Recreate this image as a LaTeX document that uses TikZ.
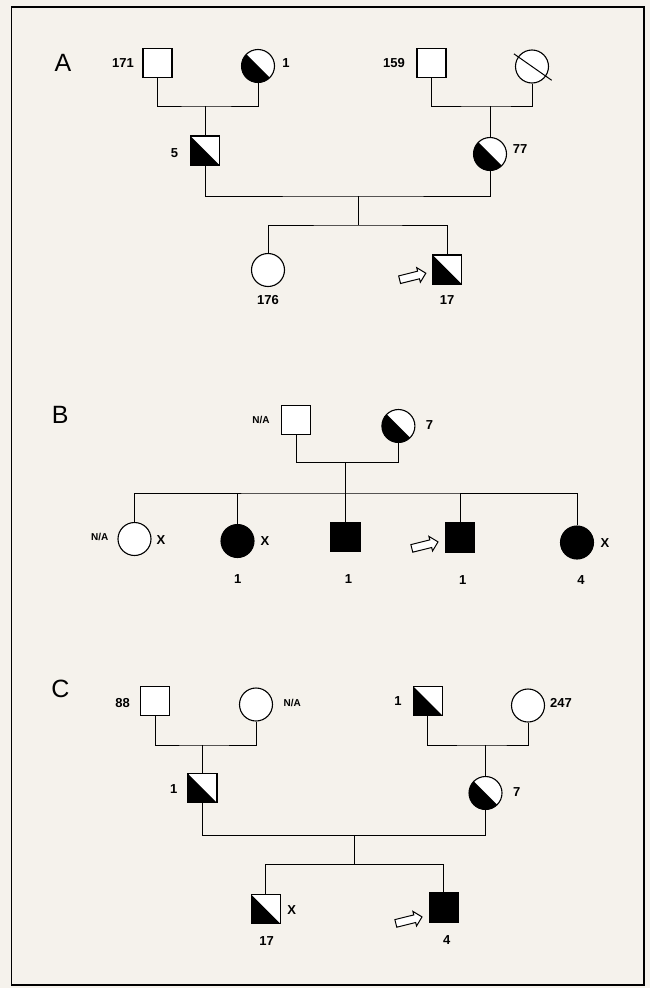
\documentclass[tikz,border=0pt]{standalone}
\usepackage{fontspec}
\setmainfont{Liberation Sans}
\usepackage{tikz}
\usetikzlibrary{shapes.arrows}
\definecolor{paper}{RGB}{245,242,236}
\tikzset{
  person/.style={draw=black, line width=1.1pt, fill=white, inner sep=0pt},
  male/.style={person, rectangle, minimum size=29pt},
  female/.style={person, circle, minimum size=33pt},
  carrier/.style={path picture={\fill[black] (path picture bounding box.north west)
      -- (path picture bounding box.south west) -- (path picture bounding box.south east) -- cycle;}},
  affected/.style={fill=black},
  lbl/.style={font=\fontsize{13}{15}\selectfont\bfseries, inner sep=0pt},
  small/.style={font=\fontsize{10}{12}\selectfont\bfseries, inner sep=0pt},
  panel/.style={font=\fontsize{25}{28}\selectfont, inner sep=0pt},
  proband/.style={single arrow, draw=black, fill=white, line width=1pt, inner sep=3.4pt,
      minimum height=27pt, single arrow head extend=3.6pt, rotate=14, anchor=tip},
  link/.style={line width=1pt}
}
\begin{document}
\begin{tikzpicture}[x=1pt, y=-1pt]
    \fill[paper] (0,0) rectangle (650,988);
    \draw[line width=1.4pt] (11.7,7) rectangle (644,985);
    % A
    \node[panel] (tA) at (63,63) {A};
    \node[male] (a171) at (157.5,63) {};
    \node[female, carrier] (a1) at (258,66) {};
    \node[male] (a159) at (431.5,63) {};
    \node[female] (ad) at (532,66.5) {};
    \draw[link, shorten <=-5pt, shorten >=-7pt] (ad.145) -- (ad.-35);
    \node[male, carrier] (a5) at (205,150.5) {};
    \node[female, carrier] (a77) at (490,154) {};
    \node[female] (a176) at (268,270) {};
    \node[male, carrier] (a17) at (447,269.5) {};
    \coordinate (mA1) at (205,106);
    \coordinate (mA2) at (490,106);
    \coordinate (mA3) at (358,196);
    \coordinate (sA) at (358,225);
    \draw[link] (a171.south) |- (mA1) -| (a1.south);
    \draw[link] (mA1) -- (a5.north);
    \draw[link] (a159.south) |- (mA2) -| (ad.south);
    \draw[link] (mA2) -- (a77.north);
    \draw[link] (a5.south) |- (mA3) -| (a77.south);
    \draw[link] (mA3) -- (sA);
    \draw[link] (a176.north) |- (sA) -| (a17.north);
    \node[lbl] (l171) at (123,63) {171};
    \node[lbl] (l1) at (286,63) {1};
    \node[lbl] (l159) at (394,63) {159};
    \node[lbl] (l5) at (174.6,153) {5};
    \node[lbl] (l77) at (520,149) {77};
    \node[lbl] (l176) at (268,300) {176};
    \node[lbl] (l17) at (447,300) {17};
    \node[proband] (pA) at (426.5,273) {};
    % B
    \node[panel] (tB) at (60.3,415) {B};
    \node[male] (bNA) at (296,420) {};
    \node[female, carrier] (b7) at (398.4,426) {};
    \node[female] (b1) at (134.5,539) {};
    \node[female, affected] (b2) at (237.5,541) {};
    \node[male, affected] (b3) at (345.5,536.7) {};
    \node[male, affected] (b4) at (460,537.5) {};
    \node[female, affected] (b5) at (577,542.5) {};
    \coordinate (mB) at (345.5,462.7);
    \coordinate (sB) at (345.5,493);
    \draw[link] (bNA.south) |- (mB) -| (b7.south);
    \draw[link] (mB) -- (b3.north);
    \draw[link] (b1.north) |- (sB) -| (b5.north);
    \draw[link] (b2.north) -- (b2.north |- sB);
    \draw[link] (b4.north) -- (b4.north |- sB);
    \node[small] (lbNA) at (261,420) {N/A};
    \node[lbl] (lb7) at (429.5,425) {7};
    \node[small] (lb1) at (99.8,537.3) {N/A};
    \node[lbl] (xb1) at (161,540) {X};
    \node[lbl] (xb2) at (265,540.7) {X};
    \node[lbl] (xb5) at (605,542.7) {X};
    \node[lbl] (lb2) at (237.8,579.3) {1};
    \node[lbl] (lb3) at (348.4,579) {1};
    \node[lbl] (lb4) at (462.8,580) {1};
    \node[lbl] (lb5) at (580.9,580) {4};
    \node[proband] (pB) at (438.7,541.7) {};
    % C
    \node[panel] (tC) at (60.3,689.3) {C};
    \node[male] (c88) at (155,701) {};
    \node[female] (cNA) at (256,704.5) {};
    \node[male, carrier] (c1) at (427.7,700.7) {};
    \node[female] (c247) at (528,705.5) {};
    \node[male, carrier] (c1b) at (202.5,788.3) {};
    \node[female, carrier] (c7) at (485.5,793) {};
    \node[male, carrier] (c17) at (265.7,909) {};
    \node[male, affected] (c4) at (443.7,907.5) {};
    \coordinate (mC1) at (202.5,745);
    \coordinate (mC2) at (485.5,745);
    \coordinate (mC3) at (354,835);
    \coordinate (sC) at (354,864);
    \draw[link] (c88.south) |- (mC1) -| (cNA.south);
    \draw[link] (mC1) -- (c1b.north);
    \draw[link] (c1.south) |- (mC2) -| (c247.south);
    \draw[link] (mC2) -- (c7.north);
    \draw[link] (c1b.south) |- (mC3) -| (c7.south);
    \draw[link] (mC3) -- (sC);
    \draw[link] (c17.north) |- (sC) -| (c4.north);
    \node[lbl] (lc88) at (122.7,702.7) {88};
    \node[small] (lcNA) at (292.3,702.7) {N/A};
    \node[lbl] (lc1) at (398,701) {1};
    \node[lbl] (lc247) at (561,703.3) {247};
    \node[lbl] (lc1b) at (173.8,789.3) {1};
    \node[lbl] (lc7) at (516.7,791.7) {7};
    \node[lbl] (xc17) at (291.7,910) {X};
    \node[lbl] (lc17) at (266.7,941) {17};
    \node[lbl] (lc4) at (446.7,940) {4};
    \node[proband] (pC) at (422.7,916.7) {};
\end{tikzpicture}
\end{document}
